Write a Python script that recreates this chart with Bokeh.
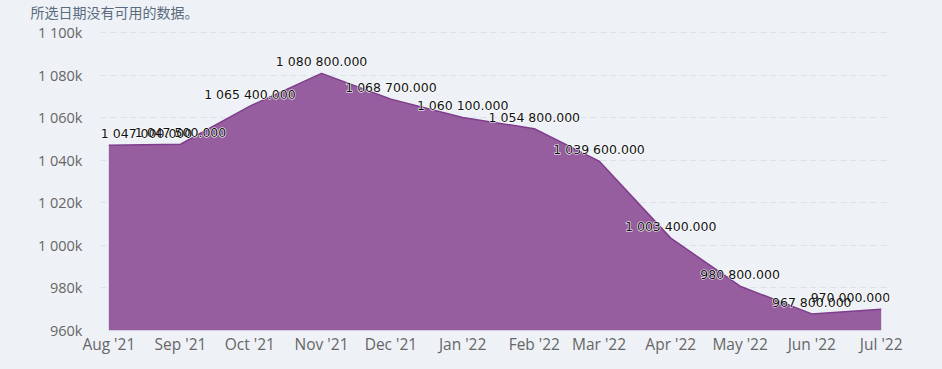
import pandas as pd
from bokeh.plotting import figure
from bokeh.models import (ColumnDataSource, Range1d, MonthsTicker, DatetimeTickFormatter,
                          CustomJSTickFormatter, FixedTicker)
from bokeh.core.properties import value
from bokeh.embed import file_html
from bokeh.resources import INLINE

months = ["2021-08-01", "2021-09-01", "2021-10-01", "2021-11-01", "2021-12-01", "2022-01-01",
          "2022-02-01", "2022-03-01", "2022-04-01", "2022-05-01", "2022-06-01", "2022-07-01"]
values = [1047000, 1047500, 1065400, 1080800, 1068700, 1060100,
          1054800, 1039600, 1003400, 980800, 967800, 970000]
y_ticks = [960000, 980000, 1000000, 1020000, 1040000, 1060000, 1080000, 1100000]
title_text = "所选日期没有可用的数据。"

dates = pd.to_datetime(months)
labels = [f"{v:,.3f}".replace(",", " ") for v in values]
aligns = ["left"] + ["center"] * (len(values) - 2) + ["right"]
xoffs = [-8] + [0] * (len(values) - 2) + [9]
src = ColumnDataSource(dict(x=dates, y=values, base=[y_ticks[0]] * len(values),
                            label=labels, align=aligns, xoff=xoffs))

BG = "#EEF2F6"
W, H = 942, 369
TOP, BOTTOM = 23, 39
# keep the 960k..1100k band at 298px; the frame reaches a little higher, empty
frame_h = H - TOP - BOTTOM
y_end = y_ticks[0] + (y_ticks[-1] - y_ticks[0]) * frame_h / 298.0
pad = pd.Timedelta(days=3.6)
p = figure(width=W, height=H, output_backend="svg", toolbar_location=None,
           x_axis_type="datetime",
           x_range=Range1d(dates[0] - pad, dates[-1] + pad),
           y_range=Range1d(y_ticks[0], y_end),
           background_fill_color=BG, border_fill_color=BG,
           min_border_left=100, min_border_right=53, min_border_bottom=BOTTOM, min_border_top=TOP)
p.outline_line_color = None

p.title.text = title_text
p.title.text_font = "Noto Sans CJK SC"
p.title.text_font_size = "14px"
p.title.text_font_style = "normal"
p.title.text_color = "#5B6B7E"
p.title.offset = -70
p.title.standoff = 0
p.title.vertical_align = "top"

p.varea(x="x", y1="base", y2="y", source=src, fill_color="#965D9F", fill_alpha=1)
p.line(x="x", y="y", source=src, line_color="#7E3E8C", line_width=1.5)
p.text(x="x", y="y", text="label", source=src, text_align="align", text_baseline="bottom",
       x_offset="xoff", y_offset=-4, text_font=value("DejaVu Sans"), text_font_size="12.5px",
       text_color="white", text_outline_color="white")
p.text(x="x", y="y", text="label", source=src, text_align="align", text_baseline="bottom",
       x_offset="xoff", y_offset=-4, text_font=value("DejaVu Sans"), text_font_size="12.5px",
       text_color="#111111")

p.xgrid.grid_line_color = None
p.ygrid.grid_line_color = "#DCE1E8"
p.ygrid.grid_line_dash = "6 4"
p.ygrid.ticker = FixedTicker(ticks=y_ticks)

p.yaxis.ticker = FixedTicker(ticks=y_ticks)
p.yaxis.formatter = CustomJSTickFormatter(
    code=r"return String(Math.round(tick/1000)).replace(/\B(?=(\d{3})+(?!\d))/g, ' ') + 'k';")
p.yaxis.axis_line_color = None
p.yaxis.major_tick_line_color = None
p.yaxis.minor_tick_line_color = None
p.yaxis.major_label_text_font = "Open Sans"
p.yaxis.major_label_text_font_size = "14.5px"
p.yaxis.major_label_text_color = "#666666"
p.yaxis.major_label_standoff = 12

p.xaxis.ticker = MonthsTicker(months=list(range(12)))
p.xaxis.formatter = DatetimeTickFormatter(months="%b '%y", days="%b '%y")
p.xaxis.axis_line_color = None
p.xaxis.major_tick_line_color = None
p.xaxis.minor_tick_line_color = None
p.xaxis.major_label_text_font = "Open Sans"
p.xaxis.major_label_text_font_size = "15.5px"
p.xaxis.major_label_text_color = "#666666"
p.xaxis.major_label_standoff = -4

html = file_html(p, INLINE)
html = html.replace("<head>", "<head><style>html,body{background:%s;}</style>" % BG, 1)
open("out.html", "w").write(html)
